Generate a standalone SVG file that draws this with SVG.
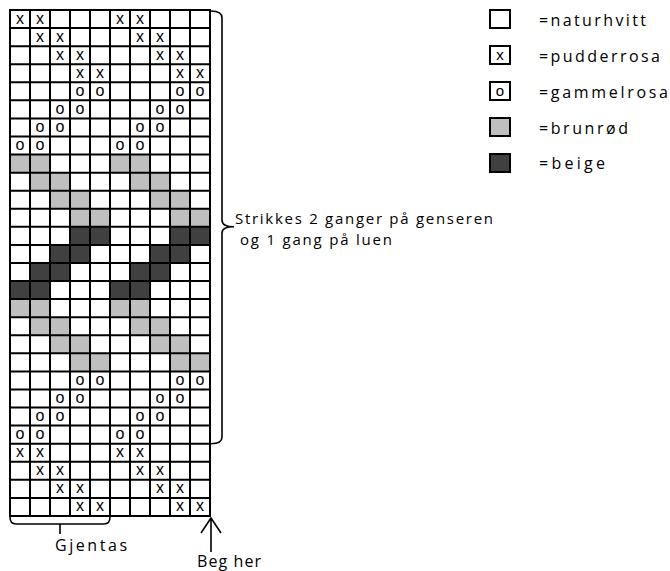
<svg xmlns="http://www.w3.org/2000/svg" width="670" height="571" viewBox="0 0 670 571">
<style>
.bg{fill:#ffffff}
.lt{fill:#bfbfbf}
.dk{fill:#404040}
.grid{fill:none;stroke:#000;stroke-width:2}
.sym{font-family:"Liberation Sans",Arial,sans-serif;font-size:16px;fill:#000;text-anchor:middle}
.lbl{font-family:"Open Sans","Liberation Sans",sans-serif;font-size:16px;fill:#000}
.note{font-size:15px}
.br{fill:none;stroke:#000;stroke-width:1.6}
.box{stroke:#000;stroke-width:2}
</style>
<rect class="bg" x="0" y="0" width="670" height="571"/>
<g id="chart">
  <g id="fills">
    <rect class="lt" x="10" y="154.56" width="40" height="18.07"/><rect class="lt" x="110" y="154.56" width="40" height="18.07"/>
    <rect class="lt" x="30" y="172.63" width="40" height="18.07"/><rect class="lt" x="130" y="172.63" width="40" height="18.07"/>
    <rect class="lt" x="50" y="190.7" width="40" height="18.07"/><rect class="lt" x="150" y="190.7" width="40" height="18.07"/>
    <rect class="lt" x="70" y="208.77" width="40" height="18.07"/><rect class="lt" x="170" y="208.77" width="40" height="18.07"/>
    <rect class="dk" x="70" y="226.84" width="40" height="18.07"/><rect class="dk" x="170" y="226.84" width="40" height="18.07"/>
    <rect class="dk" x="50" y="244.91" width="40" height="18.07"/><rect class="dk" x="150" y="244.91" width="40" height="18.07"/>
    <rect class="dk" x="30" y="262.98" width="40" height="18.07"/><rect class="dk" x="130" y="262.98" width="40" height="18.07"/>
    <rect class="dk" x="10" y="281.05" width="40" height="18.07"/><rect class="dk" x="110" y="281.05" width="40" height="18.07"/>
    <rect class="lt" x="10" y="299.12" width="40" height="18.07"/><rect class="lt" x="110" y="299.12" width="40" height="18.07"/>
    <rect class="lt" x="30" y="317.19" width="40" height="18.07"/><rect class="lt" x="130" y="317.19" width="40" height="18.07"/>
    <rect class="lt" x="50" y="335.26" width="40" height="18.07"/><rect class="lt" x="150" y="335.26" width="40" height="18.07"/>
    <rect class="lt" x="70" y="353.33" width="40" height="18.07"/><rect class="lt" x="170" y="353.33" width="40" height="18.07"/>
  </g>
  <path class="grid" d="M10,10V516M30,10V516M50,10V516M70,10V516M90,10V516M110,10V516M130,10V516M150,10V516M170,10V516M190,10V516M210,10V516
  M9,10H211M9,28.07H211M9,46.14H211M9,64.21H211M9,82.28H211M9,100.35H211M9,118.42H211M9,136.49H211M9,154.56H211M9,172.63H211
  M9,190.7H211M9,208.77H211M9,226.84H211M9,244.91H211M9,262.98H211M9,281.05H211M9,299.12H211M9,317.19H211M9,335.26H211
  M9,353.33H211M9,371.4H211M9,389.47H211M9,407.54H211M9,425.61H211M9,443.68H211M9,461.75H211M9,479.82H211M9,497.89H211M9,515.96H211"/>
  <g id="symbols" class="sym">
    <text x="20 40 120 140" y="23.5">xxxx</text>
    <text x="40 60 140 160" y="41.57">xxxx</text>
    <text x="60 80 160 180" y="59.64">xxxx</text>
    <text x="80 100 180 200" y="77.71">xxxx</text>
    <text x="80 100 180 200" y="95.78">oooo</text>
    <text x="60 80 160 180" y="113.85">oooo</text>
    <text x="40 60 140 160" y="131.92">oooo</text>
    <text x="20 40 120 140" y="149.99">oooo</text>
    <text x="80 100 180 200" y="384.9">oooo</text>
    <text x="60 80 160 180" y="402.97">oooo</text>
    <text x="40 60 140 160" y="421.04">oooo</text>
    <text x="20 40 120 140" y="439.11">oooo</text>
    <text x="20 40 120 140" y="457.18">xxxx</text>
    <text x="40 60 140 160" y="475.25">xxxx</text>
    <text x="60 80 160 180" y="493.32">xxxx</text>
    <text x="80 100 180 200" y="511.39">xxxx</text>
  </g>
</g>
<g id="connectors">
  <path class="br" d="M211,11Q222,11 222,18V220Q222,226.8 234,226.8Q222,226.8 222,233V437Q222,443.7 211,443.7"/>
  <path class="br" d="M10,517Q10,524 16,524H104Q110,524 110,517M60,524V534"/>
  <path class="br" d="M211,552V519M201,533L211,518L221,533"/>
</g>
<g id="labels" class="lbl">
  <text class="note" x="235" y="223.5" textLength="258" lengthAdjust="spacing">Strikkes 2 ganger på genseren</text>
  <text class="note" x="240" y="244.5" textLength="152" lengthAdjust="spacing">og 1 gang på luen</text>
  <text x="55" y="551" textLength="72" lengthAdjust="spacing">Gjentas</text>
  <text x="197" y="567" textLength="64" lengthAdjust="spacing">Beg her</text>
</g>
<g id="legend">
  <g id="leg-naturhvitt"><rect class="box" x="490" y="10" width="20" height="18" fill="#fff"/><text class="lbl" x="539" y="26" textLength="107" lengthAdjust="spacing">=naturhvitt</text></g>
  <g id="leg-pudderrosa"><rect class="box" x="490" y="46" width="20" height="18" fill="#fff"/><text class="sym" x="500" y="60" style="font-size:15px">x</text><text class="lbl" x="539" y="62" textLength="121" lengthAdjust="spacing">=pudderrosa</text></g>
  <g id="leg-gammelrosa"><rect class="box" x="490" y="82" width="20" height="18" fill="#fff"/><text class="sym" x="500" y="96" style="font-size:15px">o</text><text class="lbl" x="539" y="98" textLength="129" lengthAdjust="spacing">=gammelrosa</text></g>
  <g id="leg-brunrod"><rect class="box lt" x="490" y="118" width="20" height="18"/><text class="lbl" x="539" y="134" textLength="89" lengthAdjust="spacing">=brunrød</text></g>
  <g id="leg-beige"><rect class="box dk" x="490" y="154" width="20" height="18"/><text class="lbl" x="539" y="169" textLength="66" lengthAdjust="spacing">=beige</text></g>
</g>
</svg>
